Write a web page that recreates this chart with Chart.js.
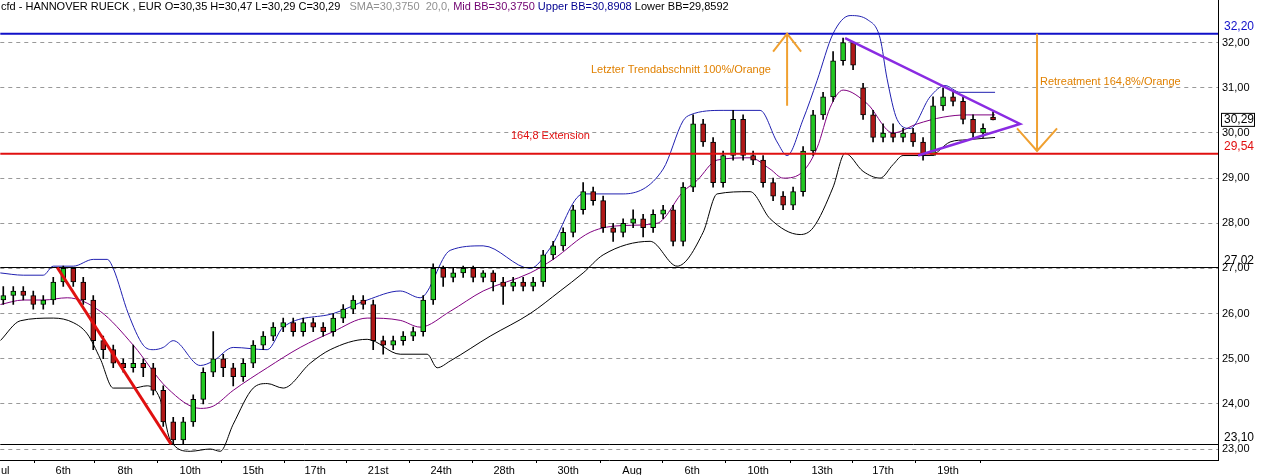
<!DOCTYPE html>
<html>
<head>
<meta charset="utf-8">
<script src="https://cdn.jsdelivr.net/npm/chart.js@4.4.0/dist/chart.umd.min.js"></script>
<style>
  html, body { margin: 0; padding: 0; background: #fff; }
  #wrap { width: 1264px; height: 475px; }
</style>
</head>
<body>
<div id="wrap"><canvas id="chart"></canvas></div>
<script>
// candles (hourly), index = position on x axis
var opens = [26.3,26.4,26.5,26.4,26.2,26.3,26.7,27.0,26.7,26.3,
  25.4,25.2,24.9,24.8,24.9,24.8,24.3,23.6,23.2,23.6,
  24.1,24.7,25.0,24.8,24.6,24.9,25.3,25.5,25.7,25.8,
  25.6,25.8,25.7,25.6,25.9,26.1,26.3,26.2,25.4,25.3,
  25.4,25.5,25.6,26.3,27.0,26.8,26.9,27.0,26.8,26.9,
  26.7,26.6,26.7,26.6,26.7,27.3,27.5,27.8,28.3,28.7,
  28.5,27.9,27.8,28.0,28.1,27.9,28.2,28.3,27.6,28.8,
  30.2,29.8,28.9,29.5,30.3,29.5,29.4,28.9,28.6,28.4,
  28.7,29.6,30.4,30.8,31.6,32.0,31.0,30.4,29.9,30.0,
  29.9,30.0,29.8,29.5,30.6,30.8,30.7,30.3,30.0,30.35];
var closes = [26.4,26.5,26.4,26.2,26.3,26.7,27.0,26.7,26.3,25.4,
  25.2,24.9,24.8,24.9,24.8,24.3,23.6,23.2,23.6,24.1,
  24.7,25.0,24.8,24.6,24.9,25.3,25.5,25.7,25.8,25.6,
  25.8,25.7,25.6,25.9,26.1,26.3,26.2,25.4,25.3,25.4,
  25.5,25.6,26.3,27.0,26.8,26.9,27.0,26.8,26.9,26.7,
  26.6,26.7,26.6,26.7,27.3,27.5,27.8,28.3,28.7,28.5,
  27.9,27.8,28.0,28.1,27.9,28.2,28.3,27.6,28.8,30.2,
  29.8,28.9,29.5,30.3,29.5,29.4,28.9,28.6,28.4,28.7,
  29.6,30.4,30.8,31.6,32.0,31.5,30.4,29.9,30.0,29.9,
  30.0,29.8,29.5,30.6,30.8,30.7,30.3,30.0,30.1,30.29];
var highs = [26.6,26.6,26.6,26.5,26.4,26.8,27.05,27.0,26.8,26.4,
  25.5,25.3,25.0,25.3,25.0,24.9,24.4,23.7,23.7,24.2,
  24.8,25.6,25.1,24.9,25.0,25.4,25.6,25.8,25.9,25.9,
  25.9,25.9,25.8,26.0,26.2,26.4,26.4,26.3,25.5,25.5,
  25.6,25.7,26.4,27.1,27.05,27.0,27.05,27.05,26.95,26.95,
  26.8,26.8,26.8,26.8,27.4,27.6,27.9,28.4,28.9,28.8,
  28.6,28.0,28.1,28.3,28.2,28.3,28.4,28.4,28.9,30.4,
  30.3,29.9,29.6,30.5,30.4,29.6,29.5,29.0,28.7,28.8,
  29.7,30.5,30.9,31.8,32.1,32.0,31.1,30.5,30.2,30.2,
  30.1,30.1,29.9,30.8,31.0,30.9,30.8,30.4,30.2,30.47];
var lows = [26.2,26.2,26.3,26.1,26.1,26.2,26.6,26.6,26.2,25.2,
  25.0,24.8,24.7,24.7,24.6,24.2,23.5,23.1,23.1,23.5,
  24.0,24.6,24.6,24.4,24.5,24.8,25.2,25.4,25.6,25.5,
  25.5,25.6,25.5,25.5,25.8,26.0,26.1,25.2,25.1,25.2,
  25.3,25.4,25.5,26.2,26.6,26.7,26.8,26.7,26.7,26.5,
  26.2,26.5,26.5,26.5,26.6,27.2,27.4,27.7,28.2,28.4,
  27.8,27.6,27.7,27.9,27.7,27.8,28.1,27.5,27.5,28.7,
  29.7,28.8,28.8,29.4,29.4,29.3,28.8,28.5,28.3,28.3,
  28.6,29.5,30.3,30.7,31.5,31.4,30.3,29.8,29.8,29.8,
  29.8,29.7,29.4,29.5,30.5,30.6,30.2,29.9,29.9,30.29];

// Bollinger bands, read at their own x positions
var upperBB = [[-0.3,26.9],[2,26.85],[4,26.85],[5,27.05],[7,27.05],[9,27.2],[10.4,27.2],[11,27.0],[12.5,26.0],[14,25.3],[15,25.2],[16,25.25],[17,25.4],[19.7,24.85],[21,24.95],[23,25.25],[26.4,25.2],[28,25.7],[33,26.0],[36.4,26.3],[39.7,26.5],[41.7,26.35],[44.7,27.4],[48,27.5],[52.7,27.0],[54.7,27.45],[58,28.65],[62,28.65],[66,29.2],[68,30.27],[68.7,30.4],[72,30.5],[75.7,30.5],[77.4,29.8],[78.4,29.5],[80,30.3],[81.4,31.16],[83,32.2],[84.7,32.6],[86.5,32.5],[87.7,32.1],[88.4,31.2],[89.4,30.3],[90.7,30.1],[92.7,30.8],[94.2,31.05],[95.7,30.9],[99.2,30.9]];
var midBB = [[-0.3,26.2],[2,26.3],[4,26.3],[6.4,26.35],[9.7,26.05],[13,25.3],[16.4,24.35],[19.7,23.9],[21,23.95],[23,24.3],[26.4,24.8],[29.7,25.25],[33,25.6],[36.4,25.9],[39.7,25.85],[41.7,25.7],[44.7,26.05],[48,26.5],[52.7,26.9],[55,27.2],[58.7,27.8],[62,27.95],[65.4,28.0],[68,28.7],[69.4,28.95],[71.4,29.4],[74.7,29.45],[76.7,29.2],[78,29.0],[80,29.15],[81.4,29.67],[82.7,30.56],[84,30.95],[86.4,30.65],[89,30.0],[91.4,30.2],[94,30.35],[96.4,30.4],[99.2,30.4]];
var lowerBB = [[-0.3,25.4],[1.7,25.84],[5,25.9],[7,25.8],[8.4,25.55],[9.7,25.0],[11,24.35],[13,24.35],[14.4,24.4],[15.7,24.1],[16.7,23.2],[18.7,22.95],[20.7,23.0],[21.7,22.95],[23,23.55],[25,24.35],[26.4,24.45],[28,24.35],[30.7,24.9],[32.7,25.2],[36.4,25.43],[39.7,25.1],[42.4,25.1],[43.4,24.8],[44.7,24.95],[48.7,25.5],[52.7,26.0],[55.7,26.5],[58,26.9],[60,27.3],[64.7,27.6],[67.4,27.05],[70,27.8],[71.4,28.65],[74.7,28.7],[76.7,28.1],[79.7,27.75],[81,27.9],[83,28.8],[84.2,29.55],[86,29.15],[87.7,29.0],[89,29.3],[90,29.5],[92.7,29.5],[94.7,29.8],[96.4,29.85],[99.2,29.9]];

// x axis labels
var tickPos = [0.2,6.0,12.2,18.7,25.0,31.2,37.5,43.8,50.1,56.5,62.9,68.9,75.5,81.9,88.0,94.5];
var tickLabels = ['ul','6th','8th','10th','15th','17th','21st','24th','28th','30th','Aug','6th','10th','13th','17th','19th'];

// drawn levels
var levels = [32.20, 29.54, 27.02, 23.10];
var levelLabels = ['32,20', '29,54', '27,02', '23,10'];
var levelColors = ['#1010c8', '#e01010', '#000000', '#000000'];

var wicks = [], bodies = [];
for (var i = 0; i < closes.length; i++) {
  wicks.push({x: i, y: [lows[i], highs[i]]});
  bodies.push({x: i, y: [opens[i], closes[i]]});
}
function pts(a) { return a.map(function (p) { return {x: p[0], y: p[1]}; }); }

var font = '11px "Liberation Sans", Arial, sans-serif';

var overlay = {
  id: 'overlay',
  afterDatasetsDraw: function (chart) {
    var c = chart.ctx, xs = chart.scales.x, ys = chart.scales.y, a = chart.chartArea;
    function X(v) { return xs.getPixelForValue(v); }
    function Y(v) { return ys.getPixelForValue(v); }
    c.save();
    // solid right axis line, full height
    c.strokeStyle = '#000'; c.lineWidth = 1;
    c.beginPath(); c.moveTo(a.right + 0.5, 0); c.lineTo(a.right + 0.5, a.bottom); c.stroke();
    // horizontal levels
    for (var k = 0; k < levels.length; k++) {
      c.strokeStyle = levelColors[k];
      c.lineWidth = k < 2 ? 2 : 1;
      c.beginPath(); c.moveTo(a.left, Y(levels[k])); c.lineTo(a.right, Y(levels[k])); c.stroke();
      c.fillStyle = levelColors[k];
      c.font = '12px "Liberation Sans", Arial, sans-serif';
      c.textAlign = 'right'; c.textBaseline = 'bottom';
      c.fillText(levelLabels[k], a.right + 36, Y(levels[k]) - 1);
    }
    // red trend line
    c.strokeStyle = '#e01010'; c.lineWidth = 3;
    c.beginPath(); c.moveTo(X(5.4), Y(27.02)); c.lineTo(X(16.8), Y(23.1)); c.stroke();
    // purple triangle
    c.strokeStyle = '#8a2be2'; c.lineWidth = 2.5;
    c.beginPath(); c.moveTo(X(84.2), Y(32.1)); c.lineTo(X(101.7), Y(30.2)); c.lineTo(X(91.5), Y(29.5)); c.stroke();
    // orange arrows
    c.strokeStyle = '#f0a030'; c.lineWidth = 2;
    c.beginPath();
    c.moveTo(X(78.4), Y(30.6)); c.lineTo(X(78.4), Y(32.2));
    c.moveTo(X(78.4) - 14, Y(31.8)); c.lineTo(X(78.4), Y(32.2)); c.lineTo(X(78.4) + 14, Y(31.8));
    c.moveTo(X(103.4), Y(32.2)); c.lineTo(X(103.4), Y(29.6));
    c.moveTo(X(103.4) - 20, Y(30.1)); c.lineTo(X(103.4), Y(29.6)); c.lineTo(X(103.4) + 20, Y(30.1));
    c.stroke();
    c.font = font; c.textBaseline = 'middle'; c.textAlign = 'left';
    c.fillStyle = '#e08000';
    c.fillText('Letzter Trendabschnitt 100%/Orange', 591, 70);
    c.fillText('Retreatment 164,8%/Orange', 1040, 82);
    c.fillStyle = '#e01010';
    c.fillText('164,8 Extension', 511, 136);
    // current price box
    c.fillStyle = '#fff'; c.strokeStyle = '#000'; c.lineWidth = 1;
    c.fillRect(a.right + 3, Y(30.29) - 7, 34, 14);
    c.strokeRect(a.right + 3.5, Y(30.29) - 6.5, 33, 13);
    c.fillStyle = '#000'; c.font = '12px "Liberation Sans", Arial, sans-serif';
    c.fillText('30,29', a.right + 6, Y(30.29));
    // header
    var parts = [['cfd - HANNOVER RUECK , EUR O=30,35 H=30,47 L=30,29 C=30,29   ', '#000'],
      ['SMA=30,3750  20,0, ', '#909090'], ['Mid BB=30,3750 ', '#700070'],
      ['Upper BB=30,8908 ', '#000090'], ['Lower BB=29,8592', '#000']];
    c.font = font; c.textBaseline = 'top';
    var x = 1;
    parts.forEach(function (p) { c.fillStyle = p[1]; c.fillText(p[0], x, 1); x += c.measureText(p[0]).width; });
    c.restore();
  }
};

new Chart(document.getElementById('chart'), {
  type: 'bar',
  data: {
    datasets: [
      { type: 'line', data: pts(upperBB), borderColor: '#2020b0', borderWidth: 1, pointRadius: 0, cubicInterpolationMode: 'monotone', order: 3, clip: false },
      { type: 'line', data: pts(midBB), borderColor: '#800080', borderWidth: 1, pointRadius: 0, cubicInterpolationMode: 'monotone', order: 3 },
      { type: 'line', data: pts(lowerBB), borderColor: '#000', borderWidth: 1, pointRadius: 0, cubicInterpolationMode: 'monotone', order: 3 },
      { data: wicks, backgroundColor: '#000', barThickness: 1, grouped: false, order: 2 },
      { data: bodies, barThickness: 5, grouped: false, order: 1, borderWidth: 1, borderColor: '#000', borderSkipped: false,
        backgroundColor: function (ctx) { return closes[ctx.dataIndex] >= opens[ctx.dataIndex] ? '#22c822' : '#b01818'; } }
    ]
  },
  options: {
    responsive: true, maintainAspectRatio: false, animation: false,
    plugins: { legend: { display: false }, tooltip: { enabled: false } },
    scales: {
      x: {
        type: 'linear', min: -0.3, max: 121.5, offset: false,
        afterBuildTicks: function (s) { s.ticks = tickPos.map(function (v) { return {value: v}; }); },
        afterFit: function (s) { s.height = 15; },
        ticks: { autoSkip: false, maxRotation: 0, padding: 1, color: '#000', font: { size: 11, family: 'Liberation Sans' },
          callback: function (v, idx) { return tickLabels[idx]; } },
        grid: { drawOnChartArea: false, tickLength: 3, color: '#000' },
        border: { color: '#000' }
      },
      y: {
        position: 'right', min: 22.757, max: 32.71,
        afterBuildTicks: function (s) { var t = []; for (var v = 23; v <= 32; v++) t.push({value: v}); s.ticks = t; },
        afterFit: function (s) { s.width = 46; },
        ticks: { color: '#000', padding: 4, font: { size: 11, family: 'Liberation Sans' },
          callback: function (v) { return v.toFixed(2).replace('.', ','); } },
        grid: { color: '#999', tickLength: 0 },
        border: { color: '#000', dash: [4, 4] }
      }
    }
  },
  plugins: [overlay]
});
</script>
</body>
</html>
